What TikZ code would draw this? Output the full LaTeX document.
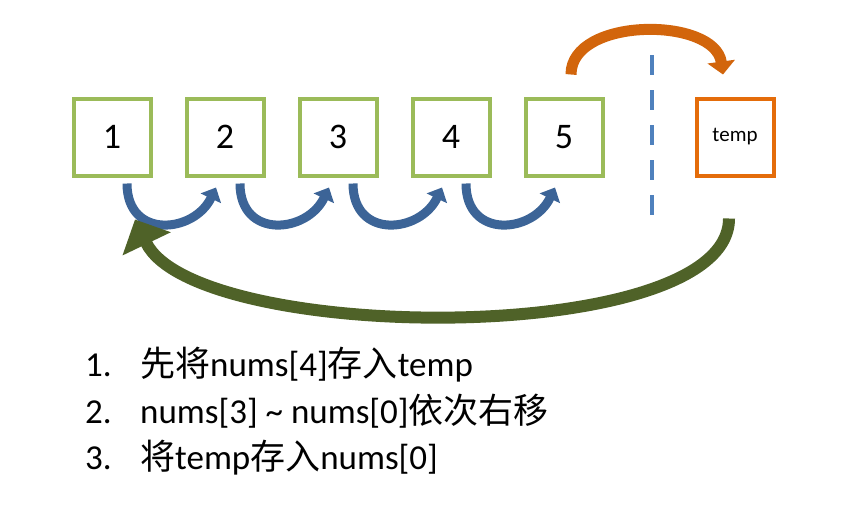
\documentclass[tikz,border=0pt]{standalone}
\usepackage{fontspec}
\setmainfont{Carlito}
\newfontfamily\cjk{Noto Sans CJK SC}
\usetikzlibrary{arrows.meta,positioning}
\definecolor{cellgreen}{HTML}{9BBB59}
\definecolor{temporange}{HTML}{E46C0A}
\definecolor{arcblue}{HTML}{3C6497}
\definecolor{dashblue}{HTML}{4F81BD}
\definecolor{backgreen}{HTML}{4F6228}
\definecolor{arcorange}{HTML}{D2650C}

\begin{document}
\begin{tikzpicture}[x=1pt,y=-1pt,
  cell/.style={draw=cellgreen, line width=4pt, minimum size=77pt, inner sep=0pt,
    font=\fontsize{36}{40}\selectfont},
  tempcell/.style={cell, draw=temporange, font=\fontsize{21}{24}\selectfont},
  shiftarrow/.style={arcblue, line width=9pt, -{Triangle[width=22pt,length=12pt]}},
  savearrow/.style={arcorange, line width=11pt, -{Triangle[width=27pt,length=13pt]}},
  backarrow/.style={backgreen, line width=12pt, -{Triangle[width=52pt,length=27pt]}},
  steptext/.style={anchor=base west, inner sep=0pt, font=\fontsize{35}{40}\selectfont}]
  \useasboundingbox (0,0) rectangle (845,512);

  % the array cells
  \node[cell] (b1) at (112,137) {1};
  \node[cell, right=32pt of b1] (b2) {2};
  \node[cell, right=32pt of b2] (b3) {3};
  \node[cell, right=32pt of b3] (b4) {4};
  \node[cell, right=32pt of b4] (b5) {5};
  \node[tempcell] (temp) at (735,137) {temp};

  % divider
  \coordinate (divtop) at (652,55);
  \coordinate (divbot) at (652,215);
  \draw[dashblue, line width=4pt, dash pattern=on 20pt off 15pt] (divtop) -- (divbot);

  % nums[4] -> temp
  \draw[savearrow] ([xshift=7pt,yshift=22pt]b5.north)
    .. controls +(0,-58) and +(-8,-58) .. ([xshift=-12pt,yshift=22pt]temp.north);

  % shift right
  \draw[shiftarrow] ([xshift=15pt,yshift=-6pt]b1.south) .. controls +(0,56) and +(-22,46) .. ([xshift=-9pt,yshift=-10pt]b2.south);
  \draw[shiftarrow] ([xshift=15pt,yshift=-6pt]b2.south) .. controls +(0,56) and +(-22,46) .. ([xshift=-9pt,yshift=-10pt]b3.south);
  \draw[shiftarrow] ([xshift=15pt,yshift=-6pt]b3.south) .. controls +(0,56) and +(-22,46) .. ([xshift=-9pt,yshift=-10pt]b4.south);
  \draw[shiftarrow] ([xshift=15pt,yshift=-6pt]b4.south) .. controls +(0,56) and +(-22,46) .. ([xshift=-9pt,yshift=-10pt]b5.south);

  % temp -> nums[0]
  \draw[backarrow] ([xshift=-6pt,yshift=-41pt]temp.south)
    .. controls +(0,130) and +(60,125) .. ([xshift=23pt,yshift=-42pt]b1.south);

  % steps
  \node[steptext] (n1) at (85,376) {1.};
  \node[steptext] (s1) at (140,376) {{\cjk 先将}nums[4]{\cjk 存入}temp};
  \node[steptext] (n2) at (85,423) {2.};
  \node[steptext] (s2) at (140,423) {nums[3] \textasciitilde\ nums[0]{\cjk 依次右移}};
  \node[steptext] (n3) at (85,469) {3.};
  \node[steptext] (s3) at (140,469) {{\cjk 将}temp{\cjk 存入}nums[0]};
\end{tikzpicture}
\end{document}
